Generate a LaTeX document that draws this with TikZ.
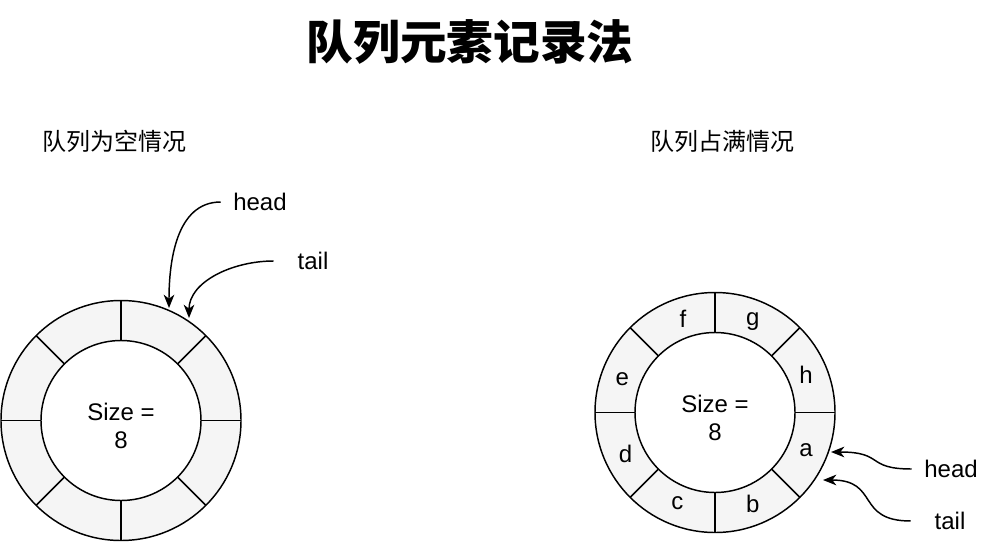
\documentclass[tikz,border=0pt]{standalone}
\usepackage{fontspec}
\setmainfont{Liberation Sans}
\newfontfamily\cjk{Noto Sans CJK SC}
\usetikzlibrary{arrows.meta,calc}
\definecolor{cellgray}{HTML}{F5F5F5}
\begin{document}
\begin{tikzpicture}[x=0.75pt,y=-0.75pt,
  ringline/.style={line width=1.1pt},
  lbl/.style={font=\fontsize{18}{21}\selectfont, inner sep=0pt},
  ptr/.style={lbl, minimum width=58.5pt, minimum height=18pt},
  sub/.style={font=\cjk\fontsize{18}{21}\selectfont, inner sep=0pt},
  conn/.style={line width=1.1pt, -{Stealth[length=10pt,width=8pt,inset=3pt]}},
]
\useasboundingbox (0,0) rectangle (996,546);
% title and subtitles
\node[font=\cjk\bfseries\fontsize{35}{40}\selectfont, inner sep=0pt] (title) at (470,42) {队列元素记录法};
\node[sub] (sub1) at (114,141) {队列为空情况};
\node[sub] (sub2) at (722,141) {队列占满情况};
% rings
\coordinate (c1) at (121,420.5);
\coordinate (c2) at (715,412.5);
\foreach \c in {c1,c2}{
  \fill[cellgray, even odd rule] (\c) circle[radius=90pt] (\c) circle[radius=60pt];
  \draw[ringline] (\c) circle[radius=90pt];
  \draw[ringline] (\c) circle[radius=60pt];
  \foreach \a in {0,45,...,315}
    \draw[ringline] ($(\c)+(\a:60pt)$) -- ($(\c)+(\a:90pt)$);
}
\node[lbl, align=center] (size1) at (121,425.5) {Size =\\8};
\node[lbl, align=center] (size2) at (715,417.5) {Size =\\8};
\foreach \t/\a in {h/22.5, g/67.5, f/109, e/160, d/205, c/247.5, b/292.5, a/337.5}
  \node[lbl] (cell\t) at ($(c2)+(\a:74pt)$) {\t};
% pointers
\node[ptr] (head1) at (260,202) {head};
\node[ptr] (tail1) at (313,261) {tail};
\node[ptr] (head2) at (951,469) {head};
\node[ptr] (tail2) at (950,521) {tail};
\coordinate (hd1) at (169,308);
\coordinate (tl1) at (189,318);
\coordinate (hd2) at (831,452);
\coordinate (tl2) at (823,480);
\draw[conn] (head1.west) .. controls (176,202) and (169,262) .. (hd1);
\draw[conn] (tail1.west) .. controls (232,261) and (189,282) .. (tl1);
\draw[conn] (head2.west) .. controls (865,469) and (885,452) .. (hd2);
\draw[conn] (tail2.west) .. controls (855,521) and (880,480) .. (tl2);
\end{tikzpicture}
\end{document}
